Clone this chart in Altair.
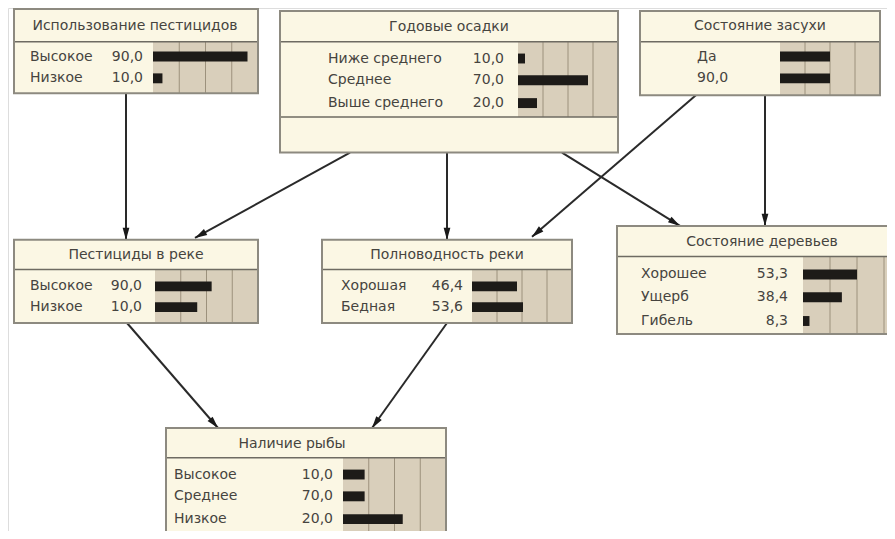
import math
import altair as alt
import pandas as pd

# ---------------- data ----------------
titles = ["Использование пестицидов", "Годовые осадки", "Состояние засухи",
          "Пестициды в реке", "Полноводность реки", "Состояние деревьев", "Наличие рыбы"]
states = [["Высокое", "Низкое"],
          ["Ниже среднего", "Среднее", "Выше среднего"],
          ["Да", "90,0"],
          ["Высокое", "Низкое"],
          ["Хорошая", "Бедная"],
          ["Хорошее", "Ущерб", "Гибель"],
          ["Высокое", "Среднее", "Низкое"]]
values = [[90.0, 10.0],
          [10.0, 70.0, 20.0],
          [None, None],
          [90.0, 10.0],
          [46.4, 53.6],
          [53.3, 38.4, 8.3],
          [10.0, 70.0, 20.0]]
# bar lengths as drawn in the picture (percent of the bar panel)
bar_lengths = [[90, 9], [7, 70, 19], [50, 50], [55, 41], [45, 51], [50, 36, 6], [21, 21, 58]]
edges = [(0, 3), (1, 3), (1, 4), (2, 4), (1, 5), (2, 5), (3, 6), (4, 6)]

# ---------------- layout (reference pixel space) ----------------
layout = [
    dict(x0=14, x1=258, y0=10, y1=95, div=43, foot=None, bx=153, bw=105, rows=[58, 80], lx=30, vx=143, tx=135, ty=27),
    dict(x0=280, x1=618, y0=12, y1=155, div=43, foot=119, bx=518, bw=100, rows=[60, 82, 105], lx=328, vx=504, tx=449, ty=28),
    dict(x0=640, x1=880, y0=12, y1=97, div=43, foot=None, bx=780, bw=100, rows=[58, 80], lx=697, vx=None, tx=760, ty=27),
    dict(x0=14, x1=258, y0=243, y1=327, div=273, foot=None, bx=155, bw=103, rows=[290, 311], lx=30, vx=142, tx=136, ty=258),
    dict(x0=322, x1=572, y0=243, y1=327, div=273, foot=None, bx=472, bw=100, rows=[290, 311], lx=341, vx=463, tx=447, ty=258),
    dict(x0=617, x1=912, y0=229, y1=338, div=260, foot=None, bx=803, bw=108, rows=[278, 301, 325], lx=641, vx=788, tx=762, ty=245),
    dict(x0=166, x1=446, y0=433, y1=570, div=463, foot=None, bx=343, bw=103, rows=[480, 502, 525], lx=174, vx=333, tx=292, ty=449),
]
edge_pts = [(126, 95, 126, 243), (350, 155, 195, 241), (447, 155, 447, 243), (697, 96, 532, 240),
            (562, 155, 680, 229), (765, 97, 765, 229), (127, 327, 218, 433), (447, 327, 372, 433)]

# ---------------- build tables ----------------
boxes, panels, grids, divs, bars, labels, vals, ttl = [], [], [], [], [], [], [], []
for i, L in enumerate(layout):
    boxes.append(dict(x=L["x0"], x2=L["x1"], y=L["y0"], y2=L["y1"]))
    pb = L["foot"] if L["foot"] else L["y1"]
    panels.append(dict(x=L["bx"], x2=L["bx"] + L["bw"], y=L["div"], y2=pb))
    for k in (1, 2, 3):
        gx = L["bx"] + L["bw"] * k / 4
        grids.append(dict(x=gx, y=L["div"], y2=pb))
    divs.append(dict(x=L["x0"], x2=L["x1"], y=L["div"]))
    if L["foot"]:
        divs.append(dict(x=L["x0"], x2=L["x1"], y=L["foot"]))
    ttl.append(dict(x=L["tx"], y=L["ty"], t=titles[i]))
    for j, s in enumerate(states[i]):
        ry = L["rows"][j]
        bars.append(dict(x=L["bx"], x2=L["bx"] + L["bw"] * bar_lengths[i][j] / 100, y=ry - 5, y2=ry + 5))
        labels.append(dict(x=L["lx"], y=ry, t=s))
        v = values[i][j]
        if v is not None and L["vx"] is not None:
            vals.append(dict(x=L["vx"], y=ry, t=f"{v:.1f}".replace(".", ",")))

lines, heads = [], []
for (a, b), (x1, y1, x2, y2) in zip(edges, edge_pts):
    lines.append(dict(x=x1, y=y1, x2=x2, y2=y2))
    dx, dy = x2 - x1, y2 - y1
    n = math.hypot(dx, dy)
    ang = (math.degrees(math.atan2(dx, -dy)) + 360) % 360
    heads.append(dict(x=x2 - dx / n * 6, y=y2 - dy / n * 6, a=ang))

XS = alt.Scale(domain=[8, 887], nice=False, zero=False)
YS = alt.Scale(domain=[537, 9], nice=False, zero=False)

def X(f="x"):
    return alt.X(f + ":Q", scale=XS, axis=None)

def Y(f="y"):
    return alt.Y(f + ":Q", scale=YS, axis=None)

FONT = "DejaVu Sans"
TXT = "#46443f"
FS = 14

base_box = alt.Chart(pd.DataFrame(boxes)).mark_rect(fill="#fbf7e4").encode(
    x=X(), x2="x2", y=Y(), y2="y2")
panel = alt.Chart(pd.DataFrame(panels)).mark_rect(fill="#d9cfbb").encode(
    x=X(), x2="x2", y=Y(), y2="y2")
grid = alt.Chart(pd.DataFrame(grids)).mark_rule(color="#9c917c", strokeWidth=1).encode(
    x=X(), y=Y(), y2="y2")
bar = alt.Chart(pd.DataFrame(bars)).mark_rect(fill="#1d1b18").encode(
    x=X(), x2="x2", y=Y(), y2="y2")
div = alt.Chart(pd.DataFrame(divs)).mark_rule(color="#6e6b62", strokeWidth=1.5).encode(
    x=X(), x2="x2", y=Y())
frame = alt.Chart(pd.DataFrame(boxes)).mark_rect(fillOpacity=0, stroke="#8d8a80", strokeWidth=2).encode(
    x=X(), x2="x2", y=Y(), y2="y2")
title_t = alt.Chart(pd.DataFrame(ttl)).mark_text(font=FONT, fontSize=FS, color=TXT, align="center", baseline="middle").encode(
    x=X(), y=Y(), text="t:N")
label_t = alt.Chart(pd.DataFrame(labels)).mark_text(font=FONT, fontSize=FS, color=TXT, align="left", baseline="middle").encode(
    x=X(), y=Y(), text="t:N")
val_t = alt.Chart(pd.DataFrame(vals)).mark_text(font=FONT, fontSize=FS, color=TXT, align="right", baseline="middle").encode(
    x=X(), y=Y(), text="t:N")
line = alt.Chart(pd.DataFrame(lines)).mark_rule(color="#2a2a2a", strokeWidth=2).encode(
    x=X(), y=Y(), x2="x2", y2="y2")
head = alt.Chart(pd.DataFrame(heads)).mark_point(
    shape="M0,-1L0.55,1L-0.55,1Z", filled=True, fill="#1a1a1a", opacity=1, size=150, strokeWidth=0).encode(
    x=X(), y=Y(), angle=alt.Angle("a:Q", scale=None))

chart = alt.layer(line, head, base_box, panel, grid, bar, div, frame, title_t, label_t, val_t).properties(
    width=879, height=523, padding=0, autosize=alt.AutoSizeParams(type="none")
).configure_view(stroke=None).configure(background="white")

chart.save("out.html", embed_options={"renderer": "svg", "actions": False})
